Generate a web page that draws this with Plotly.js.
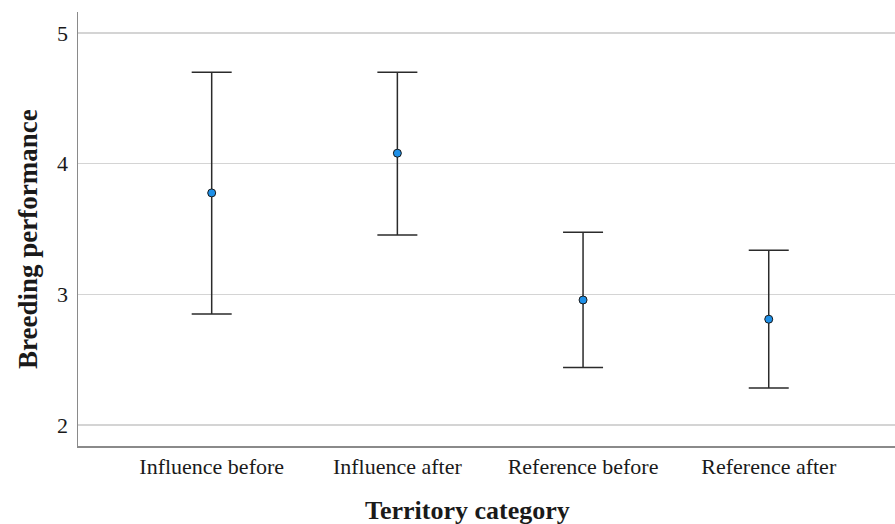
<!DOCTYPE html>
<html><head><meta charset="utf-8">
<script src="https://cdn.plot.ly/plotly-3.0.1.min.js"></script>
<style>body{margin:0;padding:0;background:#fff}#chart{width:895px;height:524px}</style>
</head><body><div id="chart"></div>
<script>
const categories = ["Influence before", "Influence after", "Reference before", "Reference after"];
const means = [3.776, 4.08, 2.957, 2.81];
const upper = [4.70, 4.70, 3.475, 3.337];
const lower = [2.85, 3.455, 2.44, 2.284];
const yTicks = [2, 3, 4, 5];

const plus = means.map((m, i) => upper[i] - m);
const minus = means.map((m, i) => m - lower[i]);
const xIdx = categories.map((c, i) => i);

const trace = {
  type: 'scatter', mode: 'markers',
  x: xIdx, y: means,
  marker: {size: 8, color: '#1e90e8', line: {color: '#1a1a1a', width: 1}},
  error_y: {type: 'data', symmetric: false, array: plus, arrayminus: minus,
            color: '#2b2b2b', thickness: 1.5, width: 20},
  hoverinfo: 'skip', showlegend: false
};

const layout = {
  width: 895, height: 524,
  margin: {l: 78, r: 0, t: 12, b: 78},
  paper_bgcolor: '#fff', plot_bgcolor: '#fff',
  font: {family: '"Liberation Serif", "Times New Roman", serif', color: '#1a1a1a', size: 22},
  xaxis: {
    range: [-0.72, 3.68], tickvals: xIdx, ticktext: categories,
    showgrid: false, zeroline: false, showline: true, linecolor: '#8a8a8a', linewidth: 1.5,
    ticks: '', tickfont: {size: 22}, fixedrange: true
  },
  yaxis: {
    range: [1.84, 5.16], tickvals: yTicks, ticktext: yTicks.map(String),
    showgrid: true, gridcolor: '#d4d4d4', gridwidth: 1.5, zeroline: false,
    showline: true, linecolor: '#8a8a8a', linewidth: 1.5, ticks: '',
    tickfont: {size: 22}, ticklabelstandoff: 4
  },
  annotations: [{
    text: '<b>Territory category</b>', xref: 'paper', yref: 'paper',
    x: 0.477, y: 0, yshift: -64, xanchor: 'center', yanchor: 'middle',
    showarrow: false, font: {size: 26}
  }, {
    text: '<b>Breeding performance</b>', xref: 'paper', yref: 'paper',
    x: 0, y: 0.477, xshift: -50, xanchor: 'center', yanchor: 'middle',
    textangle: -90, showarrow: false, font: {size: 27}
  }]
};

Plotly.newPlot('chart', [trace], layout, {displayModeBar: false, staticPlot: true});
</script></body></html>
